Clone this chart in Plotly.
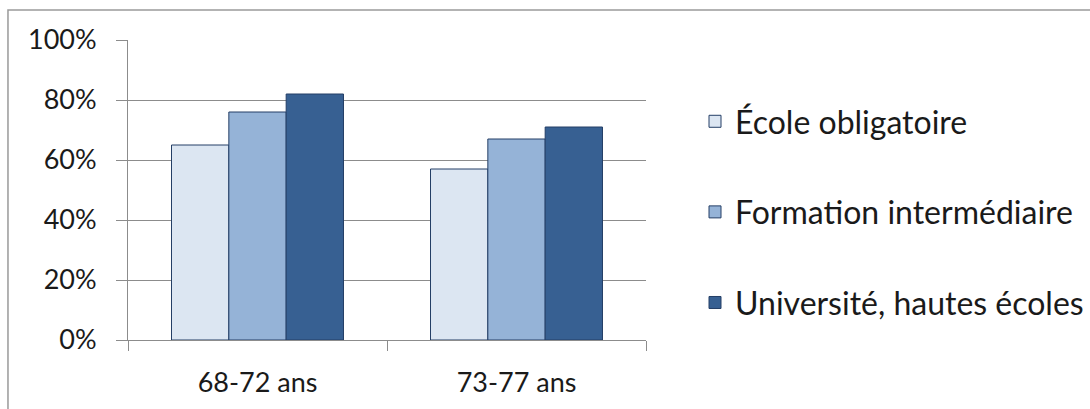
import plotly.graph_objects as go

# Age groups and share (%) for each level of education
age_groups = ["68-72 ans", "73-77 ans"]
ecole_obligatoire = [65, 57]
formation_intermediaire = [76, 67]
universite = [82, 71]

series_names = ["École obligatoire", "Formation intermédiaire", "Université, hautes écoles"]
y_ticks = [0, 20, 40, 60, 80, 100]
y_tick_labels = [f"{v}%" for v in y_ticks]

fill_colors = ["#DCE6F2", "#95B3D7", "#376092"]
outline = "#243F66"
font_family = "Lato, 'Open Sans', sans-serif"

fig = go.Figure()
for i, (name, vals) in enumerate(zip(series_names,
                                     [ecole_obligatoire, formation_intermediaire, universite])):
    fig.add_trace(go.Bar(
        x=age_groups, y=vals, name=name,
        marker=dict(color=fill_colors[i], line=dict(color=outline, width=1)),
        legendgroup=f"g{i}",
        hoverinfo="x+y+name",
    ))

fig.update_layout(
    width=1090, height=409,
    margin=dict(l=128, r=444, t=40, b=69, autoexpand=False),
    paper_bgcolor="white", plot_bgcolor="white",
    barmode="group", bargap=0.336, bargroupgap=0,
    font=dict(family=font_family, size=27, color="#1a1a1a"),
    showlegend=True,
    legend=dict(
        x=1.0946, xanchor="left", y=0.4267, yanchor="middle",
        font=dict(size=32, color="#1a1a1a"),
        tracegroupgap=46, bgcolor="rgba(0,0,0,0)",
        itemclick=False, itemdoubleclick=False,
    ),
    xaxis=dict(
        type="category", showline=True, linecolor="#8c8c8c", linewidth=1,
        ticks="outside", ticklen=10, tickcolor="#8c8c8c", tickson="boundaries",
        showgrid=False, ticklabelstandoff=19, fixedrange=True,
    ),
    yaxis=dict(
        range=[0, 100], tickmode="array", tickvals=y_ticks, ticktext=y_tick_labels,
        showline=True, linecolor="#8c8c8c", linewidth=1,
        ticks="outside", ticklen=11, tickcolor="#8c8c8c",
        showgrid=True, gridcolor="#8c8c8c", gridwidth=1,
        zeroline=False, ticklabelstandoff=14, fixedrange=True,
    ),
    shapes=[dict(
        type="rect", xref="paper", yref="paper",
        x0=-0.2317, x1=2.0, y0=-1.0, y1=1.1,
        line=dict(color="#9a9a9a", width=1.5), fillcolor="rgba(0,0,0,0)",
        layer="below",
    )],
)

fig.write_html("out.html", config={"displayModeBar": False})
